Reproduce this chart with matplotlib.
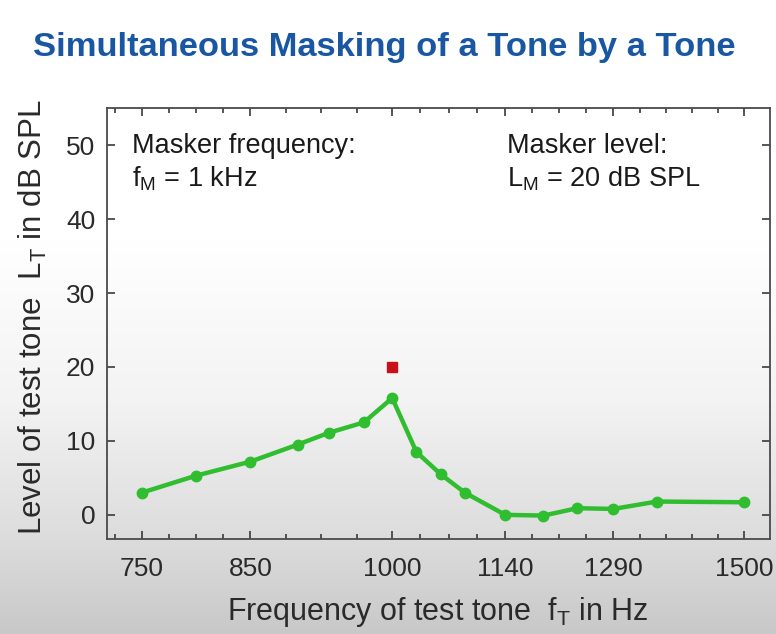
import numpy as np
import matplotlib
matplotlib.use("Agg")
import matplotlib.pyplot as plt
from matplotlib.ticker import FixedLocator, NullFormatter

plt.rcParams['font.family'] = ['Liberation Sans', 'DejaVu Sans']
plt.rcParams['mathtext.default'] = 'regular'

# ---- data ----
freq_hz = [750, 800, 850, 900, 933, 970, 1000, 1030, 1060, 1090, 1140, 1193, 1240, 1290, 1360, 1500]
level_db = [3.0, 5.3, 7.2, 9.5, 11.1, 12.5, 15.8, 8.5, 5.5, 3.0, 0.0, -0.1, 0.9, 0.8, 1.8, 1.7]
masker_freq = [1000]
masker_level = [20]
xtick_labels = [750, 850, 1000, 1140, 1290, 1500]
ytick_values = [0, 10, 20, 30, 40, 50]

# nonuniform frequency axis (critical-band like), positions of major ticks
scale_freqs = np.array([650, 750, 850, 1000, 1140, 1290, 1500, 1700], dtype=float)
scale_pos = np.array([33.2, 141.8, 250.4, 392.2, 505.2, 613.4, 744.4, 869.2])

def fwd(f):
    return np.interp(f, scale_freqs, scale_pos)

def inv(p):
    return np.interp(p, scale_pos, scale_freqs)

W, H = 776, 634
fig = plt.figure(figsize=(W / 100, H / 100), dpi=100)

# background gradient
bg = fig.add_axes([0, 0, 1, 1], zorder=-10)
rows = np.arange(H)
vals = np.interp(rows, [0, 240, 400, 540, 634], [255, 255, 243, 220, 200]) / 255.0
grad = np.repeat(vals[:, None], 2, axis=1)
bg.imshow(np.dstack([grad, grad, grad]), aspect='auto', extent=[0, 1, 0, 1], origin='upper')
bg.set_axis_off()

left, right, top, bottom = 106.5, 769.5, 107.5, 538.5
ax = fig.add_axes([left / W, 1 - bottom / H, (right - left) / W, (bottom - top) / H])
ax.set_facecolor('none')
ax.set_xscale('function', functions=(fwd, inv))
ax.set_xlim(inv(left), inv(right))
ax.set_ylim(-3.2, 55.1)

ax.plot(freq_hz, level_db, color='#30bd30', lw=3.2, marker='o', ms=7.5,
        markerfacecolor='#30bd30', markeredgecolor='#30bd30', solid_joinstyle='round', zorder=3)
ax.plot(masker_freq, masker_level, linestyle='none', marker='s', ms=6.5,
        color='#c8101a', zorder=4)

ax.xaxis.set_major_locator(FixedLocator(xtick_labels))
ax.set_xticklabels([str(v) for v in xtick_labels])
minor = []
for a, b, n in [(650, 750, 4), (750, 850, 4), (850, 1000, 4), (1000, 1140, 4), (1140, 1290, 4), (1290, 1500, 5)]:
    pa, pb = fwd(a), fwd(b)
    for k in range(1, n):
        minor.append(float(inv(pa + (pb - pa) * k / n)))
ax.xaxis.set_minor_locator(FixedLocator(minor))
ax.xaxis.set_minor_formatter(NullFormatter())
ax.set_yticks(ytick_values)

ax.tick_params(which='both', direction='in', top=True, right=True, colors='#3a3a3a',
               labelsize=19, labelcolor='#2a2a2a', width=1.2)
ax.tick_params(which='major', length=6, pad=8)
ax.tick_params(axis='x', which='major', pad=13)
ax.tick_params(which='minor', length=3.5)
for s in ax.spines.values():
    s.set_color('#4a4a4a')
    s.set_linewidth(1.3)

ax.set_xlabel('Frequency of test tone  f$_T$ in Hz', fontsize=22, color='#2a2a2a')
ax.set_ylabel('Level of test tone  L$_T$ in dB SPL', fontsize=22.5, color='#2a2a2a')
ax.xaxis.set_label_coords(0.5, -0.13)
ax.yaxis.set_label_coords(-0.087, 0.513)

tc = '#1a1a1a'
fs = 19.5
ax.text(0.038, 0.8937, 'Masker frequency:', transform=ax.transAxes, fontsize=fs, color=tc, va='baseline')
ax.text(0.038, 0.8162, 'f$_M$ = 1 kHz', transform=ax.transAxes, fontsize=fs, color=tc, va='baseline')
ax.text(0.6036, 0.8937, 'Masker level:', transform=ax.transAxes, fontsize=fs, color=tc, va='baseline')
ax.text(0.6036, 0.8162, 'L$_M$ = 20 dB SPL', transform=ax.transAxes, fontsize=fs, color=tc, va='baseline')

fig.text(384 / W, 1 - 56 / H, 'Simultaneous Masking of a Tone by a Tone', ha='center', va='baseline',
         fontsize=24.8, fontweight='bold', color='#1a57a3')

fig.savefig('out.png', dpi=100)
